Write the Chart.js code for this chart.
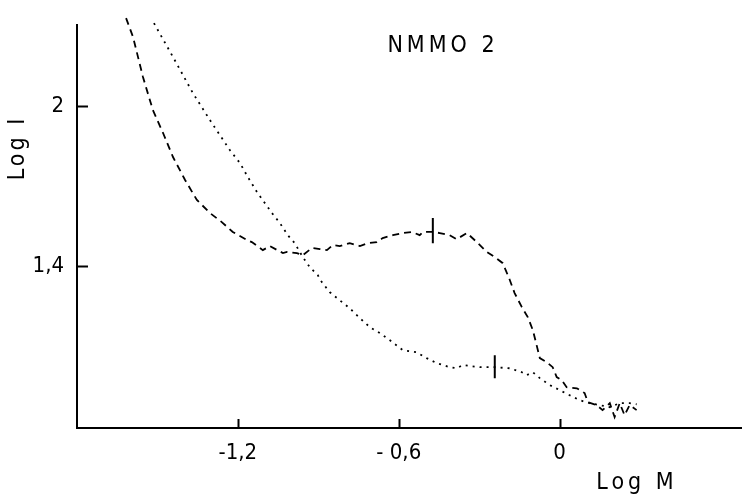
<!DOCTYPE html>
<html>
<head>
<meta charset="utf-8">
<script src="https://cdn.jsdelivr.net/npm/chart.js@4"></script>
<style>
  html, body { margin: 0; padding: 0; background: #fff; }
  canvas { display: block; }
</style>
</head>
<body>
<canvas id="nmmoChart" width="742" height="497"></canvas>
<script>
/* ==============================
   DATA
============================== */
const xTicks = [-1.2, -0.6, 0];
const xTickLabels = ['-1,2', '- 0,6', '0'];
const yTicks = [2, 1.4];
const yTickLabels = ['2', '1,4'];

// dashed curve
const dashedX = [-1.617, -1.591, -1.554, -1.517, -1.479, -1.442, -1.397, -1.353, -1.304, -1.260,
  -1.219, -1.166, -1.148, -1.107, -1.081, -1.032, -1.017, -0.980, -0.958, -0.924,
  -0.894, -0.868, -0.846, -0.820, -0.783, -0.745, -0.715, -0.682, -0.660, -0.622,
  -0.585, -0.551, -0.522, -0.510, -0.473, -0.447, -0.410, -0.384, -0.346, -0.309,
  -0.272, -0.242, -0.212, -0.186, -0.168, -0.141, -0.119, -0.100, -0.086, -0.074,
  -0.048, -0.026, -0.011, 0.008, 0.026, 0.064, 0.093, 0.105, 0.138, 0.160,
  0.187, 0.205, 0.224, 0.242, 0.261, 0.287];
const dashedY = [2.330, 2.259, 2.109, 1.985, 1.899, 1.809, 1.723, 1.648, 1.599, 1.565,
  1.528, 1.498, 1.490, 1.460, 1.475, 1.449, 1.453, 1.449, 1.441, 1.468,
  1.464, 1.460, 1.479, 1.475, 1.486, 1.475, 1.486, 1.490, 1.505, 1.516,
  1.524, 1.528, 1.516, 1.528, 1.528, 1.524, 1.516, 1.501, 1.524, 1.490,
  1.453, 1.434, 1.411, 1.348, 1.299, 1.246, 1.209, 1.160, 1.104, 1.055,
  1.040, 1.021, 0.984, 0.972, 0.946, 0.942, 0.924, 0.890, 0.879, 0.860,
  0.886, 0.834, 0.886, 0.841, 0.879, 0.860];

// dotted curve
const dottedX = [-1.513, -1.442, -1.368, -1.297, -1.267, -1.230, -1.192, -1.163, -1.129, -1.073,
  -1.043, -1.014, -0.988, -0.958, -0.932, -0.902, -0.887, -0.857, -0.820, -0.783,
  -0.745, -0.708, -0.671, -0.633, -0.585, -0.533, -0.496, -0.458, -0.410, -0.384,
  -0.361, -0.298, -0.242, -0.186, -0.141, -0.123, -0.100, -0.074, -0.037, 0.000,
  0.037, 0.075, 0.112, 0.149, 0.187, 0.224, 0.261, 0.287];
const dottedY = [2.311, 2.184, 2.049, 1.936, 1.891, 1.835, 1.786, 1.734, 1.678, 1.599,
  1.561, 1.516, 1.486, 1.434, 1.396, 1.366, 1.340, 1.302, 1.272, 1.242,
  1.205, 1.171, 1.149, 1.122, 1.085, 1.077, 1.055, 1.036, 1.021, 1.017,
  1.029, 1.021, 1.021, 1.017, 1.002, 0.991, 1.002, 0.980, 0.954, 0.935,
  0.916, 0.897, 0.886, 0.879, 0.871, 0.886, 0.886, 0.882];

// short vertical marks on the curves
const dashedMarkX = [-0.473, -0.473];
const dashedMarkY = [1.580, 1.486];
const dottedMarkX = [-0.242, -0.242];
const dottedMarkY = [1.066, 0.980];

const FONT = "'DejaVu Sans Condensed', 'Liberation Sans Narrow', 'DejaVu Sans', sans-serif";

function toPoints(xs, ys) {
    return xs.map((x, i) => ({ x: x, y: ys[i] }));
}

/* ==============================
   INWARD TICKS + FREE TEXT
============================== */
const decorPlugin = {
    id: 'decor',
    afterDraw(chart) {
        const ctx = chart.ctx;
        const xs = chart.scales.x;
        const ys = chart.scales.y;
        const area = chart.chartArea;

        ctx.save();
        ctx.strokeStyle = '#000';
        ctx.lineWidth = 2;
        xTicks.forEach(v => {
            const px = Math.round(xs.getPixelForValue(v)) + 0.5;
            ctx.beginPath();
            ctx.moveTo(px, area.bottom);
            ctx.lineTo(px, area.bottom - 9);
            ctx.stroke();
        });
        yTicks.forEach(v => {
            const py = Math.round(ys.getPixelForValue(v)) + 0.5;
            ctx.beginPath();
            ctx.moveTo(area.left, py);
            ctx.lineTo(area.left + 11, py);
            ctx.stroke();
        });

        ctx.fillStyle = '#000';
        ctx.textBaseline = 'middle';
        ctx.textAlign = 'center';
        ctx.font = '23px ' + FONT;
        ctx.letterSpacing = '4px';
        ctx.fillText('NMMO 2', 443, 46);
        ctx.letterSpacing = '4px';
        ctx.fillText('Log M', 637, 483);

        ctx.translate(18, 148);
        ctx.rotate(-Math.PI / 2);
        ctx.letterSpacing = '3px';
        ctx.fillText('Log I', 0, 0);
        ctx.restore();
    }
};

/* ==============================
   CHART
============================== */
function renderChart() {
    const ctx = document.getElementById('nmmoChart');
    if (!ctx) return;

    const lineBase = {
        showLine: true,
        pointRadius: 0,
        borderColor: '#000',
        fill: false,
        tension: 0,
        clip: false
    };

    new Chart(ctx.getContext('2d'), {
        type: 'scatter',
        data: {
            datasets: [
                Object.assign({}, lineBase, {
                    data: toPoints(dashedX, dashedY),
                    borderWidth: 1.8,
                    borderDash: [7, 5]
                }),
                Object.assign({}, lineBase, {
                    data: toPoints(dottedX, dottedY),
                    borderWidth: 1.8,
                    borderDash: [2, 5]
                }),
                Object.assign({}, lineBase, {
                    data: toPoints(dashedMarkX, dashedMarkY),
                    borderWidth: 2
                }),
                Object.assign({}, lineBase, {
                    data: toPoints(dottedMarkX, dottedMarkY),
                    borderWidth: 2
                })
            ]
        },
        options: {
            responsive: false,
            animation: false,
            layout: { padding: { top: 25, right: 0, left: 0, bottom: 0 } },
            plugins: {
                legend: { display: false },
                tooltip: { enabled: false }
            },
            scales: {
                x: {
                    type: 'linear',
                    min: -1.8,
                    max: 0.68,
                    grid: { display: false },
                    border: { display: true, color: '#000', width: 2 },
                    afterBuildTicks: scale => { scale.ticks = xTicks.map(v => ({ value: v })); },
                    afterFit: scale => { scale.height = 69; },
                    ticks: {
                        color: '#000',
                        padding: 4,
                        maxRotation: 0,
                        font: { family: FONT, size: 22 },
                        callback: (v) => xTickLabels[xTicks.indexOf(v)]
                    }
                },
                y: {
                    type: 'linear',
                    min: 0.793,
                    max: 2.304,
                    grid: { display: false },
                    border: { display: true, color: '#000', width: 2 },
                    afterBuildTicks: scale => { scale.ticks = yTicks.map(v => ({ value: v })); },
                    afterFit: scale => { scale.width = 77; },
                    ticks: {
                        color: '#000',
                        padding: 5,
                        font: { family: FONT, size: 22 },
                        callback: (v) => yTickLabels[yTicks.indexOf(v)]
                    }
                }
            }
        },
        plugins: [decorPlugin]
    });
}

document.addEventListener('DOMContentLoaded', renderChart);
</script>
</body>
</html>
